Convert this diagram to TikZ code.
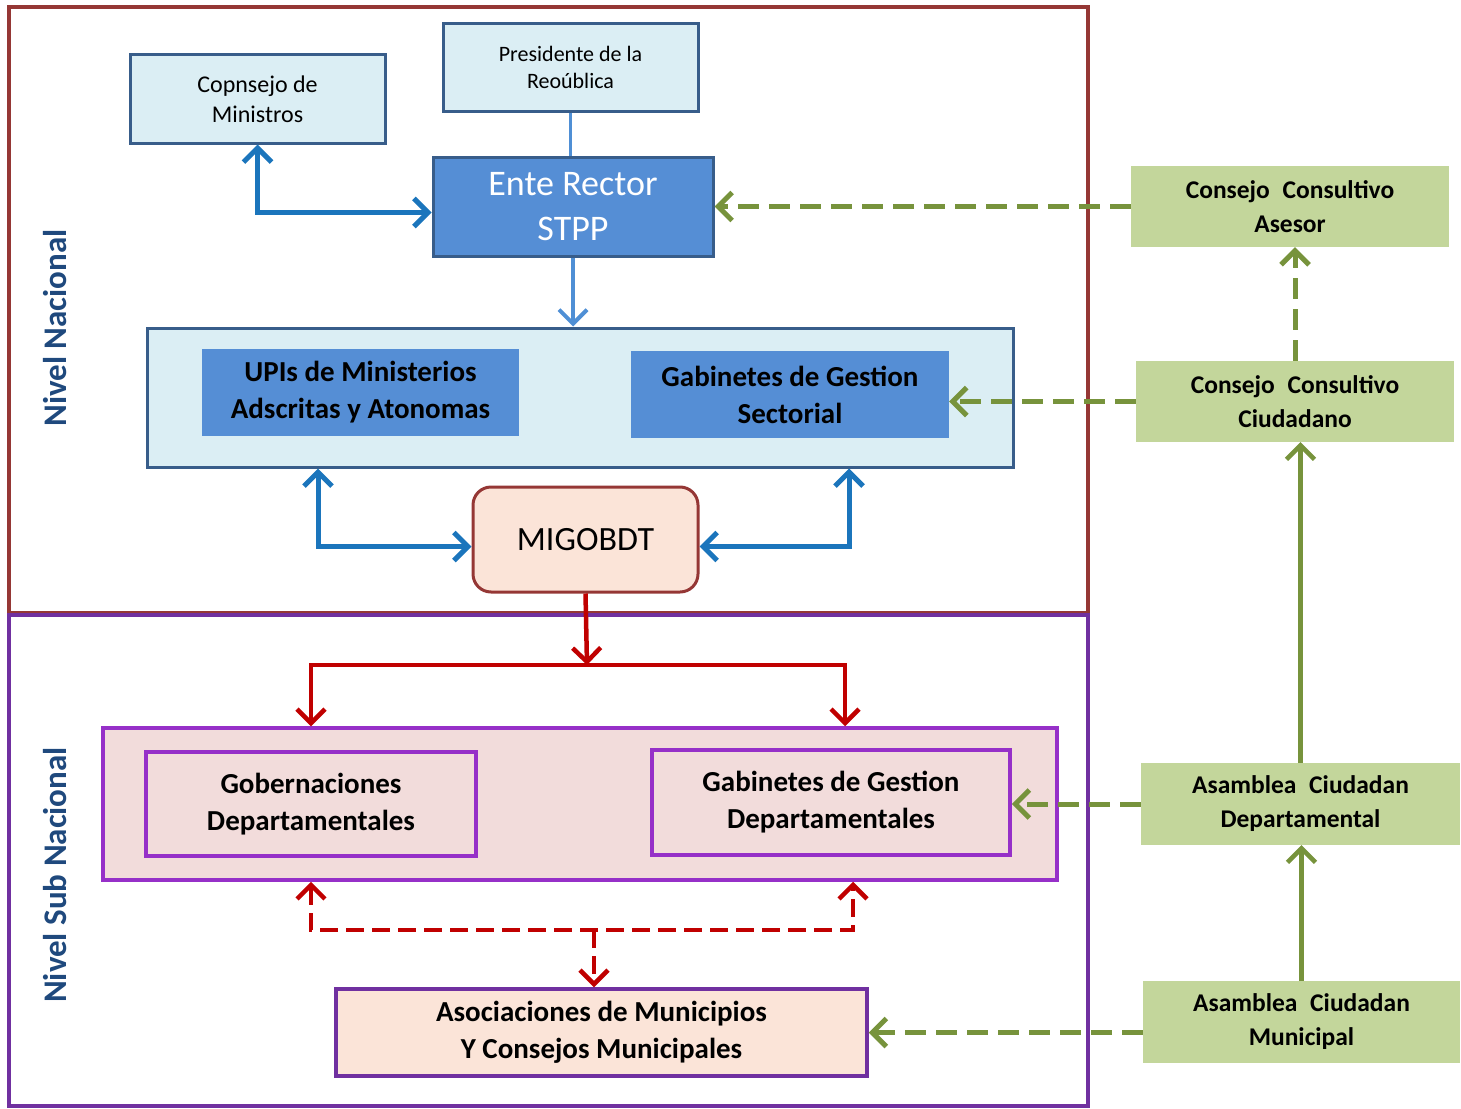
\documentclass[tikz,border=0pt]{standalone}
\usepackage{fontspec}
\setmainfont{Carlito}
\usetikzlibrary{arrows.meta}
\usetikzlibrary{calc}

\definecolor{frameRed}{HTML}{953735}
\definecolor{framePurple}{HTML}{7030A0}
\definecolor{boxPurple}{HTML}{9630C8}
\definecolor{paleBlue}{HTML}{DBEEF4}
\definecolor{edgeBlue}{HTML}{385D8A}
\definecolor{midBlue}{HTML}{558ED5}
\definecolor{arrowBlue}{HTML}{1B75BC}
\definecolor{lineBlue}{HTML}{4F8FD5}
\definecolor{paleRose}{HTML}{F2DCDB}
\definecolor{peach}{HTML}{FBE4D8}
\definecolor{sage}{HTML}{C3D69B}
\definecolor{olive}{HTML}{77933C}
\definecolor{darkRed}{HTML}{C00000}
\definecolor{navy}{HTML}{1F497D}

\newcommand{\fs}[2]{\fontsize{#1}{#2}\selectfont}

\begin{document}
\begin{tikzpicture}[x=1pt, y=-1pt, >={Straight Barb[length=14pt, width=28pt]},
  box/.style={inner sep=0pt, align=center},
  lightbox/.style={box, draw=edgeBlue, line width=3pt, fill=paleBlue, font=\fs{24}{30}},
  unitbox/.style={box, fill=midBlue, font=\bfseries\fs{29}{37}},
  rosebox/.style={box, draw=boxPurple, line width=3.5pt, fill=paleRose, font=\bfseries\fs{29}{37}},
  citizen/.style={box, fill=sage, font=\bfseries\fs{25.5}{34}},
  level/.style={rotate=90, text=navy, font=\bfseries\fs{33}{38}},
  bluearrow/.style={draw=arrowBlue, line width=5pt, <->},
  redarrow/.style={draw=darkRed, line width=4.5pt, ->},
  reddash/.style={redarrow, dash pattern=on 18pt off 8pt},
  greendash/.style={draw=olive, line width=5pt, dash pattern=on 21pt off 10pt, ->},
  greenline/.style={draw=olive, line width=4.5pt, ->}]

\useasboundingbox (0,0) rectangle (1461,1108);

% frames
\draw [frameRed, line width=4pt] (9,7) rectangle (1088,613);
\draw [framePurple, line width=4pt] (9,615) rectangle (1088,1106);
\node [level] (NIVN) at (55,328) {Nivel Nacional};
\node [level] (NIVS) at (55,875) {Nivel Sub Nacional};

% nivel nacional
\node [lightbox, minimum width=255, minimum height=88] (CONS) at (257.5,99) {Copnsejo de\\Ministros};
\node [lightbox, minimum width=255, minimum height=87, font=\fs{22}{27}] (PRES) at (570.5,67.5) {Presidente de la\\Reoública};
\node [box, draw=edgeBlue, line width=3pt, fill=midBlue, text=white, font=\fs{36}{45},
       minimum width=280, minimum height=99] (ENTE) at (573,206.5) {Ente Rector\\STPP};
\node [box, draw=edgeBlue, line width=3pt, fill=paleBlue, minimum width=866, minimum height=139] (NAT) at (580,397.5) {};
\node [unitbox, minimum width=317, minimum height=87] (UPI) at (360.5,392.5) {UPIs de Ministerios\\Adscritas y Atonomas};
\node [unitbox, minimum width=318, minimum height=87] (GABS) at (790,394.5) {Gabinetes de Gestion\\Sectorial};
\node [box, draw=frameRed, line width=3pt, fill=peach, rounded corners=18pt, font=\fs{34}{40},
       minimum width=225, minimum height=105] (MIGO) at (585.5,539.5) {MIGOBDT};

% nivel sub nacional
\node [box, draw=boxPurple, line width=3.5pt, fill=paleRose, minimum width=954, minimum height=152] (DEP) at (580,804) {};
\node [rosebox, minimum width=330, minimum height=104] (GOB) at (311,804) {Gobernaciones\\Departamentales};
\node [rosebox, minimum width=358, minimum height=105] (GABD) at (831,802.5) {Gabinetes de Gestion\\Departamentales};
\node [rosebox, draw=framePurple, fill=peach, minimum width=531, minimum height=87] (ASOC) at (601.5,1032.5) {Asociaciones de Municipios\\Y Consejos Municipales};

% participacion ciudadana
\node [citizen, minimum width=318, minimum height=81] (ASES) at (1290,206.5) {Consejo\enspace Consultivo\\Asesor};
\node [citizen, minimum width=318, minimum height=81] (CIUD) at (1295,401.5) {Consejo\enspace Consultivo\\Ciudadano};
\node [citizen, minimum width=319, minimum height=82] (ADEP) at (1300.5,804) {Asamblea\enspace Ciudadan\\Departamental};
\node [citizen, minimum width=317, minimum height=82] (AMUN) at (1301.5,1022) {Asamblea\enspace Ciudadan\\Municipal};

\coordinate (SPLIT) at (587,665);
\coordinate (MID) at (594,930);

% conectores
\draw [lineBlue, line width=3.5pt] (PRES.south) -- (PRES.south |- ENTE.north);
\draw [lineBlue, line width=4pt, ->] (ENTE.south) -- (ENTE.south |- NAT.north);
\draw [bluearrow] (CONS.south) |- ($(ENTE.west)+(0,6)$);
\draw [bluearrow] ([xshift=-262pt]NAT.south) |- ($(MIGO.west)+(0,7)$);
\draw [bluearrow] ([xshift=269pt]NAT.south) |- ($(MIGO.east)+(0,7)$);

\draw [redarrow] (MIGO.south) -- (SPLIT);
\draw [redarrow] (SPLIT) -| (GOB.north |- DEP.north);
\draw [redarrow] (SPLIT) -| ($(GABD.north |- DEP.north)+(14,0)$);
\draw [reddash, <->] (GOB.south |- DEP.south) |- (MID) -| ($(GABD.south |- DEP.south)+(22,0)$);
\draw [reddash] (MID) -- (MID |- ASOC.north);

\draw [greendash] (ASES.west) -- (ENTE.east);
\draw [greendash] (CIUD.west) -- (CIUD.west -| GABS.east);
\draw [greendash] (ADEP.west) -- (ADEP.west -| GABD.east);
\draw [greendash] (AMUN.west |- ASOC.east) -- (ASOC.east);
\draw [greendash] (CIUD.north) -- (CIUD.north |- ASES.south);
\draw [greenline] (ADEP.north) -- (ADEP.north |- CIUD.south);
\draw [greenline] (AMUN.north) -- (AMUN.north |- ADEP.south);
\end{tikzpicture}
\end{document}
